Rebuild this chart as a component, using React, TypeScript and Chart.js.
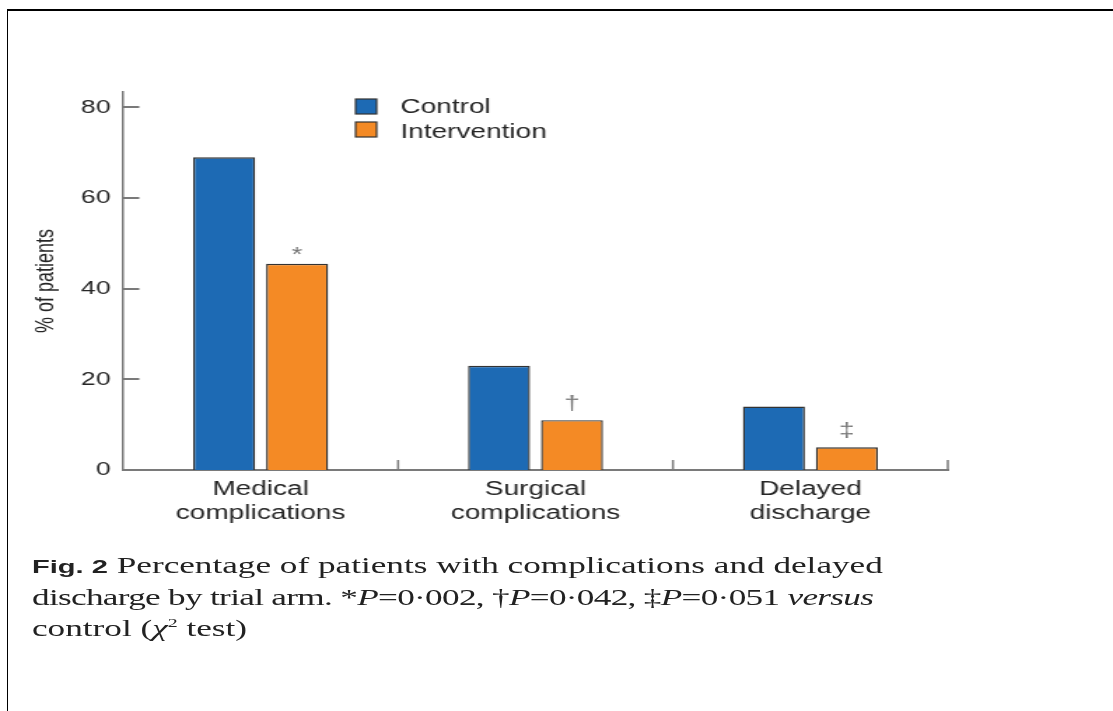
import React, { useEffect, useRef } from "react";
import { Chart, registerables } from "chart.js";

Chart.register(...registerables);

// ---- data ----
const categories = [
  ["Medical", "complications"],
  ["Surgical", "complications"],
  ["Delayed", "discharge"],
];
const seriesNames = ["Control", "Intervention"];
const controlValues = [69, 23, 14];
const interventionValues = [45.5, 11, 5];
const significanceMarks = ["*", "†", "‡"];
const yTickValues = [0, 20, 40, 60, 80];
const yAxisMax = 83.4;
const yAxisTitle = "% of patients";

// ---- style ----
const seriesColors = ["#1d6ab4", "#f48a25"];
const BAR_BORDER = "#333333";
const AXIS_COLOR = "#7a7a7a";
const TEXT_COLOR = "#262626";
const MARK_COLOR = "#777777";
const SANS = "'Liberation Sans', Arial, Helvetica, sans-serif";
const SERIF = "'Liberation Serif', 'Times New Roman', serif";
const STRETCH = 1.4; // the figure is horizontally stretched
const CANVAS_W = Math.round(1113 / STRETCH);
const CANVAS_H = 540;
const CAPTION_STRETCH = 1.53;

const decorPlugin = {
  id: "decor",
  afterDatasetsDraw(chart: any) {
    const ctx = chart.ctx;
    const xs = chart.scales.x;
    const ys = chart.scales.y;
    const area = chart.chartArea;
    ctx.save();
    // inward y tick marks
    ctx.strokeStyle = AXIS_COLOR;
    ctx.lineWidth = 2;
    ys.ticks.forEach((t: any) => {
      const py = Math.round(ys.getPixelForValue(t.value));
      ctx.beginPath();
      ctx.moveTo(area.left, py);
      ctx.lineTo(area.left + 11.5, py);
      ctx.stroke();
    });
    // category separator ticks on the x axis
    ctx.lineWidth = 1.5;
    const n = chart.data.labels.length;
    const step = xs.getPixelForValue(1) - xs.getPixelForValue(0);
    for (let i = 0; i < n; i++) {
      const px = xs.getPixelForValue(i) + step / 2;
      ctx.beginPath();
      ctx.moveTo(px, area.bottom);
      ctx.lineTo(px, area.bottom - 10);
      ctx.stroke();
    }
    // significance marks above intervention bars
    const meta = chart.getDatasetMeta(1);
    ctx.fillStyle = MARK_COLOR;
    ctx.font = `20px ${SANS}`;
    ctx.textAlign = "center";
    ctx.textBaseline = "alphabetic";
    meta.data.forEach((bar: any, i: number) => {
      const mark = significanceMarks[i];
      if (!mark) return;
      const m = ctx.measureText(mark);
      ctx.fillText(mark, bar.x, bar.y - 9 - m.actualBoundingBoxDescent);
    });
    // legend
    const lx = 254;
    const ly = 99;
    chart.data.datasets.forEach((ds: any, i: number) => {
      const y0 = ly + i * 23;
      ctx.fillStyle = ds.backgroundColor;
      ctx.fillRect(lx, y0, 15, 15);
      ctx.strokeStyle = BAR_BORDER;
      ctx.lineWidth = 1.2;
      ctx.strokeRect(lx, y0, 15, 15);
      ctx.fillStyle = TEXT_COLOR;
      ctx.font = `20px ${SANS}`;
      ctx.textAlign = "left";
      ctx.textBaseline = "middle";
      ctx.fillText(ds.label, 286, 107 + i * 25);
    });
    ctx.restore();
  },
};

export default function App() {
  const canvasRef = useRef<HTMLCanvasElement | null>(null);

  useEffect(() => {
    const canvas = canvasRef.current;
    if (!canvas) return;
    const chart = new Chart(canvas, {
      type: "bar",
      data: {
        labels: categories,
        datasets: [
          {
            label: seriesNames[0],
            data: controlValues,
            backgroundColor: seriesColors[0],
            borderColor: BAR_BORDER,
            borderWidth: 1.4,
            categoryPercentage: 0.531,
            barPercentage: 0.85,
          },
          {
            label: seriesNames[1],
            data: interventionValues,
            backgroundColor: seriesColors[1],
            borderColor: BAR_BORDER,
            borderWidth: 1.4,
            categoryPercentage: 0.531,
            barPercentage: 0.85,
          },
        ],
      },
      options: {
        responsive: false,
        animation: false,
        devicePixelRatio: 1,
        layout: { padding: { left: 0, right: CANVAS_W - 677, top: 92, bottom: 0 } },
        plugins: {
          legend: { display: false },
          tooltip: { enabled: false },
          title: { display: false },
        },
        scales: {
          x: {
            grid: { display: false, drawTicks: false, tickLength: 0 },
            border: { display: true, color: AXIS_COLOR, width: 2 },
            ticks: {
              color: TEXT_COLOR,
              font: { family: SANS, size: 20 },
              padding: 7,
              maxRotation: 0,
              autoSkip: false,
            },
            afterFit: (s: any) => {
              s.height = CANVAS_H - 470;
            },
          },
          y: {
            min: 0,
            max: yAxisMax,
            grid: { display: false, drawTicks: false, tickLength: 0 },
            border: { display: true, color: AXIS_COLOR, width: 1.5 },
            ticks: {
              stepSize: 20,
              color: TEXT_COLOR,
              font: { family: SANS, size: 19 },
              padding: 9,
            },
            afterBuildTicks: (s: any) => {
              s.ticks = yTickValues.map((v) => ({ value: v }));
            },
            title: {
              display: true,
              text: yAxisTitle,
              color: TEXT_COLOR,
              font: { family: SANS, size: 18 },
              padding: { top: 22, bottom: 0 },
            },
            afterFit: (s: any) => {
              s.width = 88;
            },
          },
        },
      },
      plugins: [decorPlugin],
    });
    return () => chart.destroy();
  }, []);

  return (
    <>
      <div
        style={{
          position: "fixed",
          left: 7,
          top: 9,
          right: 0,
          bottom: 0,
          borderTop: "2px solid #000",
          borderLeft: "1px solid #000",
        }}
      />
      <canvas
        ref={canvasRef}
        width={CANVAS_W}
        height={CANVAS_H}
        style={{
          position: "fixed",
          left: 0,
          top: 0,
          transform: `scaleX(${STRETCH})`,
          transformOrigin: "0 0",
        }}
      />
      <div
        style={{
          position: "fixed",
          left: 32,
          top: 550,
          fontFamily: SERIF,
          fontSize: 23,
          lineHeight: "31px",
          color: "#222",
          whiteSpace: "nowrap",
          transform: `scaleX(${CAPTION_STRETCH})`,
          transformOrigin: "0 0",
        }}
      >
        <div>
          <span style={{ fontFamily: SANS, fontWeight: 700, fontSize: 19 }}>Fig. 2</span> Percentage of
          patients with complications and delayed
        </div>
        <div style={{ letterSpacing: "-0.45px" }}>
          discharge by trial arm. *<i>P</i>=0·002, †<i>P</i>=0·042, ‡<i>P</i>=0·051 <i>versus</i>
        </div>
        <div>
          control (<i>χ</i>
          <span style={{ fontSize: 13, position: "relative", top: -9 }}>2</span>{" "}test)
        </div>
      </div>
    </>
  );
}
